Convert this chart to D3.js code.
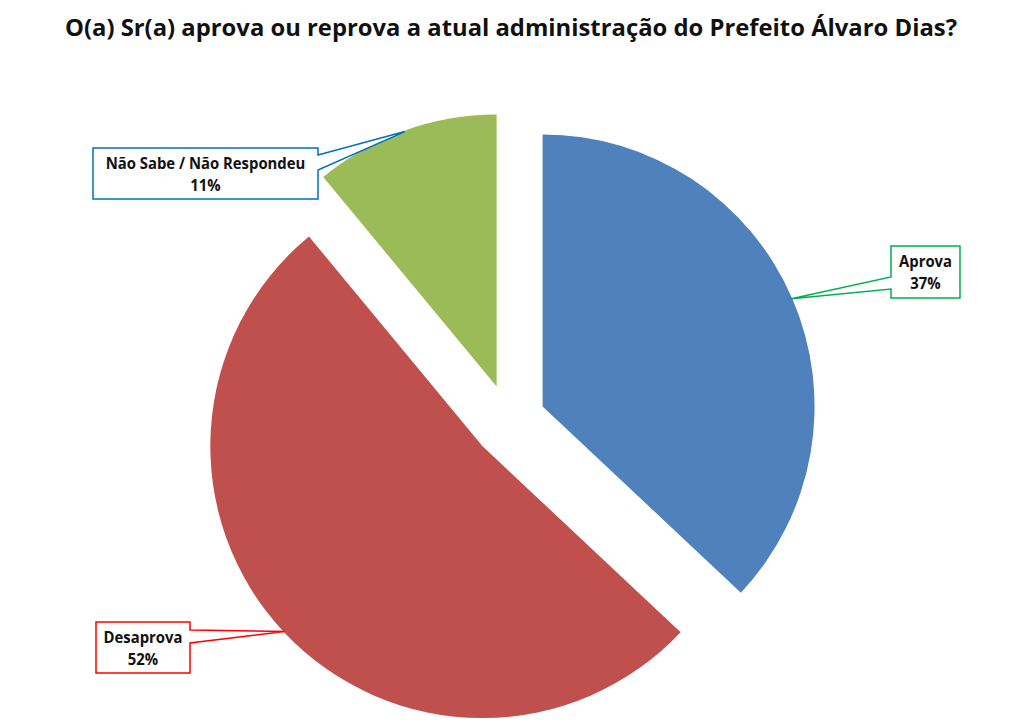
<!DOCTYPE html>
<html>
<head>
<meta charset="utf-8">
<script src="https://cdn.jsdelivr.net/npm/d3@7"></script>
<style>
  body { margin: 0; background: #fff; }
  text { font-family: "Open Sans", "DejaVu Sans", sans-serif; font-weight: bold; fill: #111; }
</style>
</head>
<body>
<svg id="chart" width="1024" height="723"></svg>
<script>
  var title = "O(a) Sr(a) aprova ou reprova a atual administração do Prefeito Álvaro Dias?"
  var categories = ["Aprova", "Desaprova", "Não Sabe / Não Respondeu"]
  var values = [37, 52, 11]
  var pctLabels = ["37%", "52%", "11%"]
  var colors = ["#4F81BD", "#C0504D", "#9BBB59"]
  var borderColors = ["#00B050", "#FF0000", "#0070C0"]

  var svg = d3.select("#chart")
  var width = 1024, height = 723
  var cx = 509, cy = 421
  var radius = 272
  var explode = 36.6

  svg.append("rect").attr("width", width).attr("height", height).attr("fill", "#fff")

  // title, squeezed to the width of the original
  svg.append("text")
    .attr("x", 65)
    .attr("y", 36)
    .attr("textLength", 892)
    .attr("lengthAdjust", "spacingAndGlyphs")
    .style("font-size", "24px")
    .text(title)

  var pie = d3.pie().sort(null).value(d => d)
  var arcs = pie(values)
  var arc = d3.arc().innerRadius(0).outerRadius(radius)

  // offset of each exploded slice along its mid angle
  function offset(d, r) {
    var a = (d.startAngle + d.endAngle) / 2
    return [Math.sin(a) * r, -Math.cos(a) * r]
  }

  var g = svg.append("g").attr("transform", "translate(" + cx + "," + cy + ")")
  g.selectAll("path.slice")
    .data(arcs)
    .enter().append("path")
    .attr("class", "slice")
    .attr("d", arc)
    .attr("fill", (d, i) => colors[i])
    .attr("transform", d => {
      var o = offset(d, explode)
      return "translate(" + o[0] + "," + o[1] + ")"
    })

  // callout boxes: [x0, y0, x1, y1, side where the pointer leaves, pointer start y, pointer end y]
  var boxes = [
    [891, 246, 960, 298, "left", 277, 289],
    [96, 622, 190, 673, "right", 630, 643],
    [93, 148, 318, 199, "right", 155, 170]
  ]

  arcs.forEach(function(d, i) {
    var o = offset(d, explode)
    var t = offset(d, radius - 1)
    var tx = cx + o[0] + t[0], ty = cy + o[1] + t[1]
    var b = boxes[i]
    var p
    if (b[4] === "left") {
      p = [[b[0], b[1]], [b[2], b[1]], [b[2], b[3]], [b[0], b[3]], [b[0], b[6]], [tx, ty], [b[0], b[5]]]
    } else {
      p = [[b[0], b[1]], [b[2], b[1]], [b[2], b[5]], [tx, ty], [b[2], b[6]], [b[2], b[3]], [b[0], b[3]]]
    }
    svg.append("path")
      .attr("d", "M" + p.map(q => q.join(",")).join("L") + "Z")
      .attr("fill", "#fff")
      .attr("stroke", borderColors[i])
      .attr("stroke-width", 1.5)
    var mx = (b[0] + b[2]) / 2
    // a bit narrower, like the original Calibri
    var lab = svg.append("text")
      .attr("text-anchor", "middle")
      .attr("transform", "translate(" + mx + ",0) scale(0.9,1)")
      .style("font-size", "16.5px")
    lab.append("tspan").attr("x", 0).attr("y", b[1] + 21).text(categories[i])
    lab.append("tspan").attr("x", 0).attr("y", b[1] + 43).text(pctLabels[i])
  })
</script>
</body>
</html>
